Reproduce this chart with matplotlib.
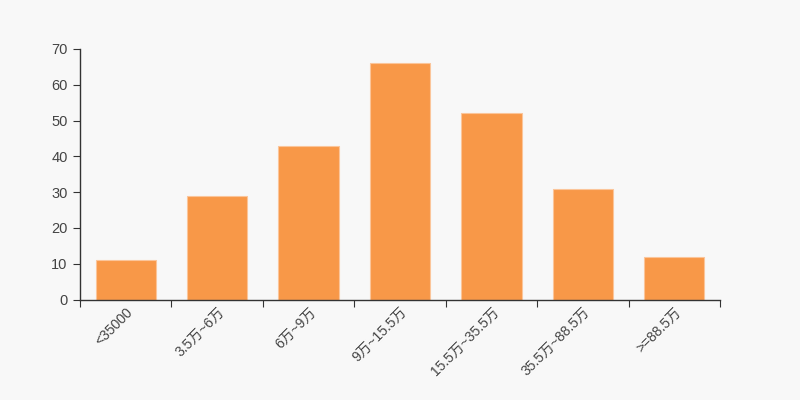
import matplotlib
matplotlib.use("Agg")
from matplotlib import pyplot as plt
import numpy as np

plt.rcParams['font.family'] = ['Liberation Sans', 'Noto Sans CJK SC', 'DejaVu Sans']

categories = ["<35000", "3.5万~6万", "6万~9万", "9万~15.5万", "15.5万~35.5万", "35.5万~88.5万", ">=88.5万"]
counts = [11, 29, 43, 66, 52, 31, 12]

bg = "#f8f8f8"
fig = plt.figure(figsize=(8, 4), dpi=100, facecolor=bg)
ax = fig.add_axes([0.1, 0.2512, 0.8, 0.6263], facecolor=bg)

x = np.arange(len(categories))
ax.bar(x, counts, width=0.66, color="#f89848", edgecolor="#fbc59a", linewidth=0.8)

ax.set_xlim(-0.5, len(categories) - 0.5)
ax.set_ylim(0, 70)
ax.set_yticks(range(0, 71, 10))

# ticks sit on slot boundaries, labels at slot centres
ax.set_xticks(np.arange(-0.5, len(categories), 1.0))
ax.set_xticklabels([])
ax.set_xticks(x, minor=True)
ax.set_xticklabels(categories, minor=True, rotation=45, ha="right",
                   rotation_mode="anchor", fontsize=10, color="#444444")
ax.tick_params(axis="x", which="minor", length=0, pad=4)
ax.tick_params(axis="x", which="major", length=5, color="#333333")
ax.tick_params(axis="y", length=5, color="#333333", labelsize=10.5, labelcolor="#444444", pad=4)

for s in ["top", "right"]:
    ax.spines[s].set_visible(False)
for s in ["left", "bottom"]:
    ax.spines[s].set_color("#333333")
    ax.spines[s].set_linewidth(1)

fig.savefig("out.png", dpi=100, facecolor=bg)
